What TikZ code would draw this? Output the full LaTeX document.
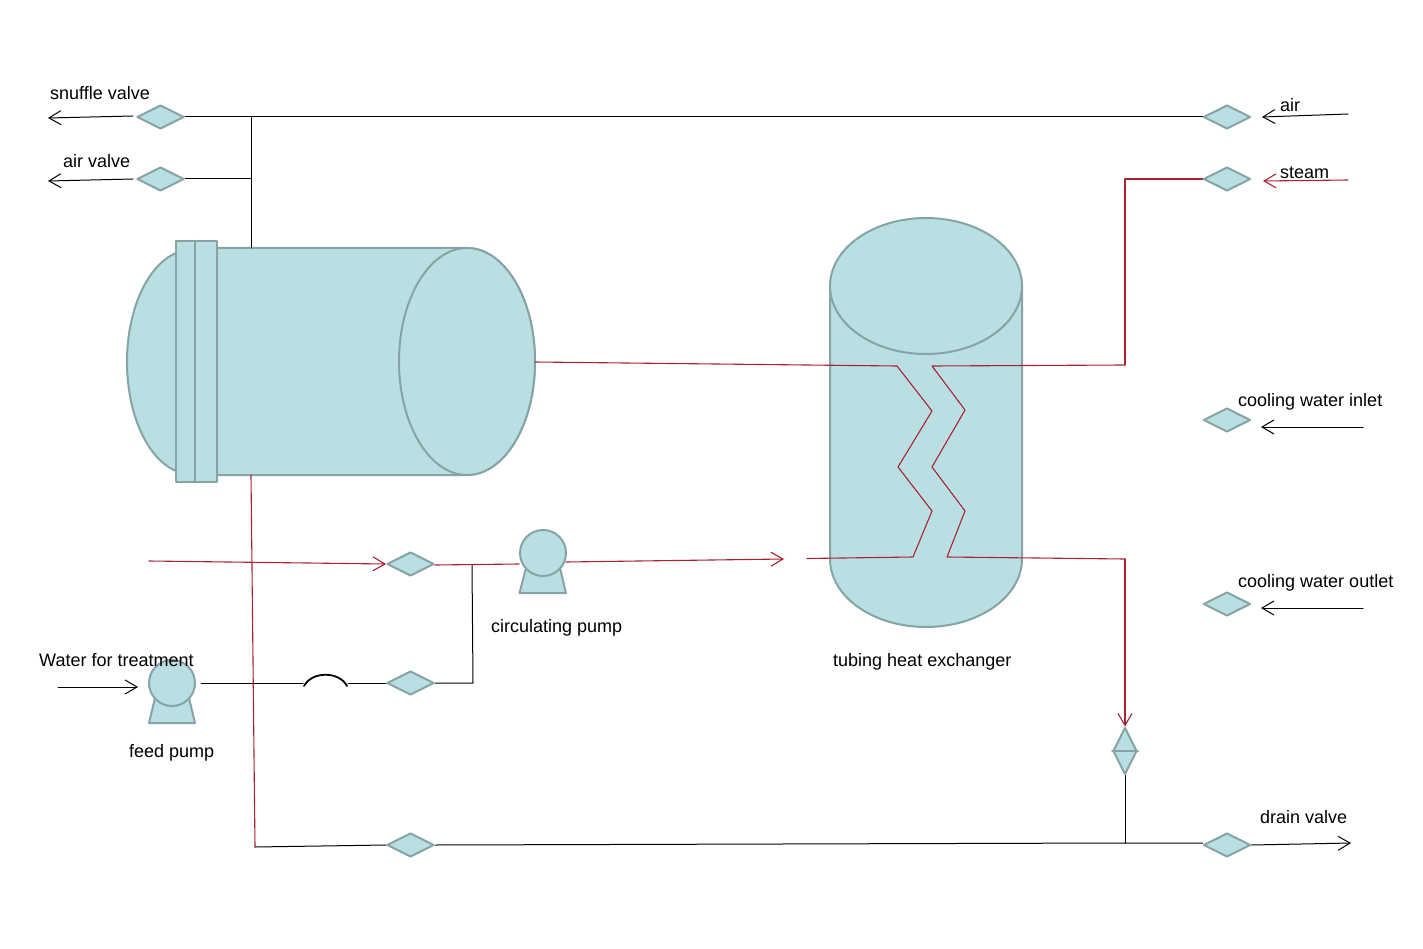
\documentclass[tikz,border=0pt]{standalone}
\usepackage{fontspec}
\setmainfont{Liberation Sans}
\usetikzlibrary{shapes.geometric,arrows.meta}
\definecolor{tankfill}{HTML}{B9DFE2}
\definecolor{tankedge}{HTML}{86A4A6}
\definecolor{pipered}{HTML}{A62436}
\tikzset{
	vessel/.style={fill=tankfill, draw=tankedge, line width=2pt},
	valve/.style={diamond, vessel, inner sep=0pt, minimum width=47pt, minimum height=24pt},
	pumphead/.style={circle, vessel, inner sep=0pt, minimum size=46pt},
	pipe/.style={line width=1pt, black},
	hotpipe/.style={line width=1.1pt, pipered},
	label/.style={anchor=west, inner sep=0pt, font=\fontsize{18}{22}\selectfont}
}
\begin{document}
\begin{tikzpicture}[x=1pt, y=-1pt, line cap=round, line join=round, >={Straight Barb[length=12pt, width=14pt]}]
	\useasboundingbox (0,0) rectangle (1423,949);
	
	% Vessel on the left: dome, shell, open end, flange
	\filldraw[vessel] (176,253) .. controls (146,266) and (127,312) .. (127,362)
		.. controls (127,412) and (146,458) .. (176,471) -- cycle;
	\filldraw[vessel] (217,248) -- (467,248) arc (-90:90:68 and 113.5) -- (217,475) -- cycle;
	\filldraw[vessel] (467,361.5) ellipse (68 and 113.5);
	\filldraw[vessel] (176,241) rectangle (217,482);
	\draw[vessel] (195,241) -- (195,482);
	
	% Tubing heat exchanger
	\filldraw[vessel] (830,286) -- (830,559) arc (180:0:96 and 68) -- (1022,286) -- cycle;
	\filldraw[vessel] (926,286) ellipse (96 and 68);
	
	% Points the pipes run through
	\coordinate (tankTop) at (251,248);
	\coordinate (tankBot) at (251,475);
	\coordinate (tankEnd) at (535,362);
	\coordinate (teeSnuffle) at (251,117);
	\coordinate (teeAir) at (251,179);
	\coordinate (teeSteam) at (1125,179);
	\coordinate (teeCoolIn) at (1125,365);
	\coordinate (teeCoolOut) at (1125,559);
	\coordinate (cornerDrain) at (255,847);
	\coordinate (teeDrain) at (1125,843);
	\coordinate (teeFeedUp) at (472,565);
	\coordinate (teeFeedDn) at (473,683);
	\coordinate (bumpL) at (304,686);
	\coordinate (bumpR) at (347,686);
	
	% Valves
	\node[valve] (vSnuffle) at (160.5,117) {};
	\node[valve] (vAirOut) at (160.5,179) {};
	\node[valve] (vAirIn) at (1227,117) {};
	\node[valve] (vSteam) at (1227,179) {};
	\node[valve] (vCoolIn) at (1227,420) {};
	\node[valve] (vCoolOut) at (1227,604) {};
	\node[valve] (vLoop) at (410.5,564) {};
	\node[valve] (vFeed) at (410.5,683) {};
	\node[valve] (vBottom) at (410.5,845) {};
	\node[valve] (vDrain) at (1227,845) {};
	\node[valve, minimum width=24pt, minimum height=47pt] (vTrap) at (1125,751) {};
	\draw[vessel] (vTrap.west) -- (vTrap.east);
	
	% Pumps
	\filldraw[vessel] (526,568) -- (519.5,593) -- (566,593) -- (560,568) -- cycle;
	\node[pumphead] (pCirc) at (543,553) {};
	\filldraw[vessel] (155,698) -- (149,723) -- (195,723) -- (189,698) -- cycle;
	\node[pumphead] (pFeed) at (172,683) {};
	
	% Black pipes
	\draw[pipe] (vSnuffle.east) -- (vAirIn.west);
	\draw[pipe] (teeSnuffle) -- (tankTop);
	\draw[pipe] (vAirOut.east) -- (teeAir);
	\draw[pipe] (pFeed.east) ++(5,0) -- (303,683);
	\draw[line width=1.8pt] (bumpL) .. controls (312,671) and (339,671) .. (bumpR);
	\draw[pipe] (348,683) -- (vFeed.west);
	\draw[pipe] (vFeed.east) -- (teeFeedDn) -- (teeFeedUp);
	\draw[pipe] (cornerDrain) -- (vBottom.west);
	\draw[pipe] (vBottom.east) -- (teeDrain) -- (vDrain.west |- teeDrain);
	\draw[pipe] (vTrap.south) -- (teeDrain);
	
	% Red pipes
	\draw[hotpipe] (tankEnd) -- (897,366) -- (932,411) -- (898,467) -- (932,511) -- (913,557) -- (807,558.5);
	\draw[hotpipe] (teeCoolIn) -- (932,366) -- (965,410) -- (932,467) -- (965,511) -- (947,557) -- (teeCoolOut);
	\draw[hotpipe, ->] (teeCoolOut) -- (vTrap.north);
	\draw[hotpipe] (vSteam.west) -- (teeSteam) -- (teeCoolIn);
	\draw[hotpipe] (tankBot) -- (cornerDrain);
	\draw[hotpipe] (vLoop.east) ++(0,1) -- (pCirc.west |- 0,564);
	\draw[hotpipe, ->] (566,562) -- (784,559);
	\coordinate (loopIn) at (149,561);
	\draw[hotpipe, ->] (loopIn) -- (vLoop.west);
	
	% Arrows at the free ends
	\coordinate (endSnuffle) at (48,118);
	\coordinate (endAirOut) at (48,181);
	\coordinate (endAirIn) at (1348,114);
	\coordinate (endSteam) at (1348,180);
	\coordinate (endCoolIn) at (1363,427);
	\coordinate (endCoolOut) at (1363,608);
	\coordinate (endWater) at (58,687);
	\coordinate (endDrain) at (1351,843);
	\draw[pipe, ->] (133,116) -- (endSnuffle);
	\draw[pipe, ->] (133,179) -- (endAirOut);
	\draw[pipe, ->] (endAirIn) -- (1262,117);
	\draw[hotpipe, ->] (endSteam) -- (1263,181);
	\draw[pipe, ->] (endCoolIn) -- (1261,427);
	\draw[pipe, ->] (endCoolOut) -- (1261,608);
	\draw[pipe, ->] (endWater) -- (138,687);
	\draw[pipe, ->] (vDrain.east) -- (endDrain);
	
	% Labels
	\node[label] (lSnuffle) at (50,93) {snuffle valve};
	\node[label] (lAirOut) at (63,161) {air valve};
	\node[label] (lAirIn) at (1280,105) {air};
	\node[label] (lSteam) at (1280,173) {steam};
	\node[label] (lCoolIn) at (1238,402) {cooling water inlet};
	\node[label] (lCoolOut) at (1238,583) {cooling water outlet};
	\node[label] (lDrain) at (1260,817) {drain valve};
	\node[label] (lCirc) at (491,628) {circulating pump};
	\node[label] (lExch) at (833,662) {tubing heat exchanger};
	\node[label] (lFeed) at (129,753) {feed pump};
	\node[label] (lWater) at (39,660) {Water for treatment};
\end{tikzpicture}
\end{document}
